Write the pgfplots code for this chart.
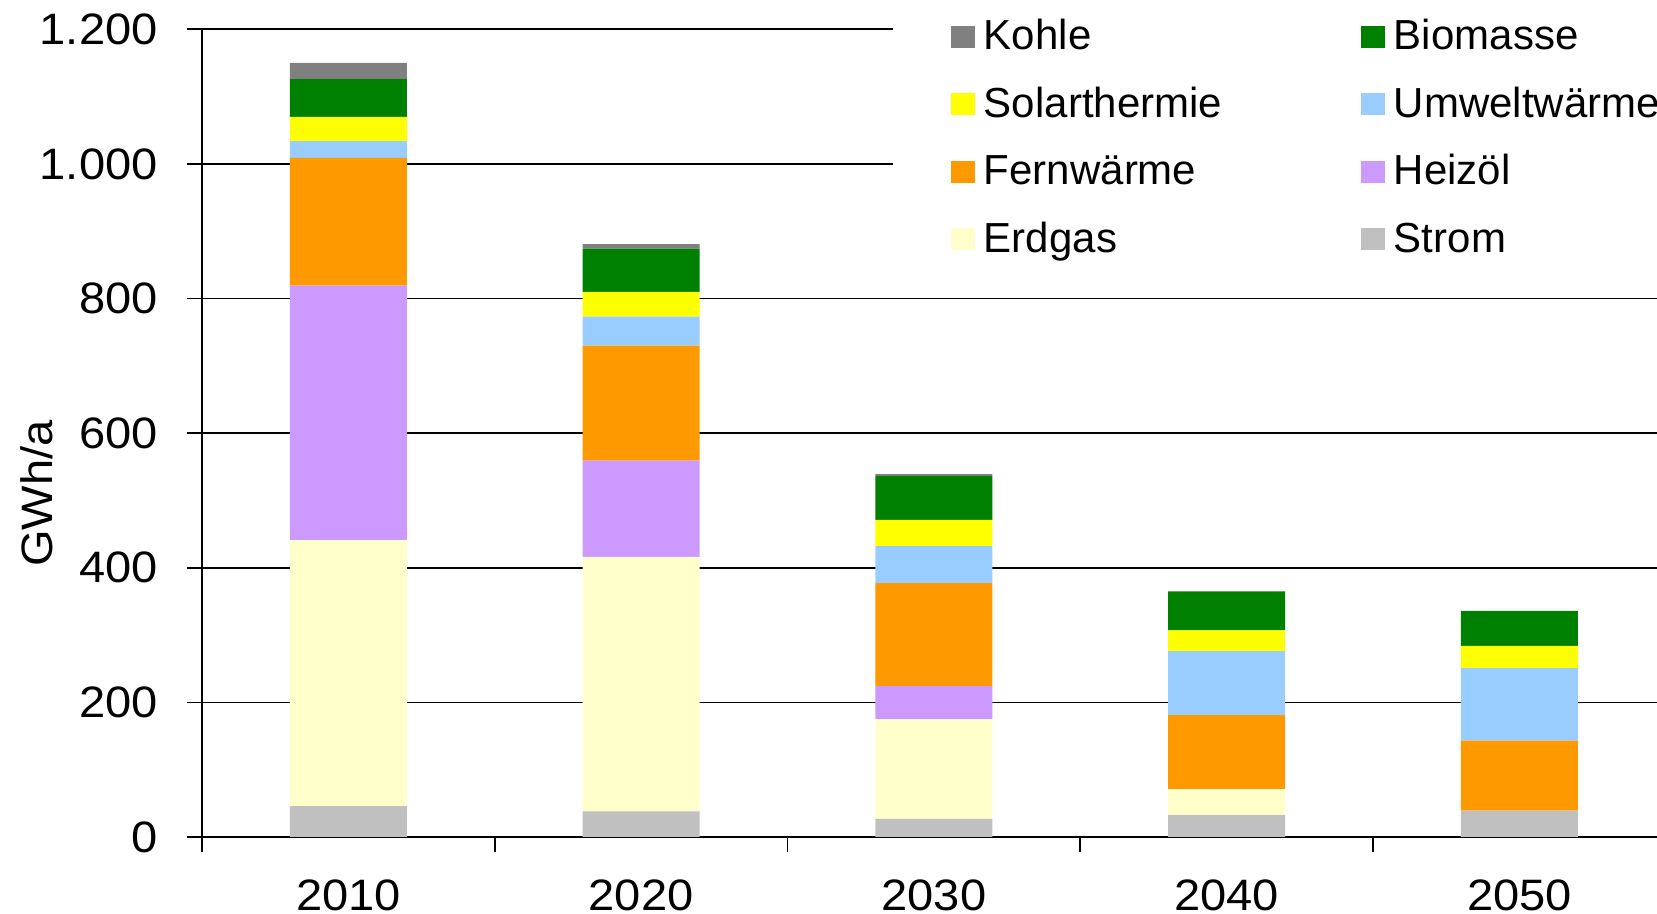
\documentclass[border=0pt]{standalone}
\usepackage{pgfplots}
\pgfplotsset{compat=1.18}
\usepackage{pgfplotstable}
\usepackage{fontspec}
\setmainfont{Liberation Sans}
\newfontfamily\tickfont[FakeStretch=1.07]{Liberation Sans}
\definecolor{cKohle}{HTML}{808080}
\definecolor{cBio}{HTML}{008000}
\definecolor{cSolar}{HTML}{FFFF00}
\definecolor{cUmwelt}{HTML}{99CCFF}
\definecolor{cFern}{HTML}{FF9900}
\definecolor{cHeiz}{HTML}{CC99FF}
\definecolor{cErdgas}{HTML}{FFFFCC}
\definecolor{cStrom}{HTML}{C0C0C0}
\pgfplotstableread{
x Strom Erdgas Heizoel Fern Umwelt Solar Bio Kohle
0 46 395 378 190 25 36 56 24
1 38 378 143 171 43 37 64 7
2 27 148 49 153 55 39 65 3
3 33 38 0 110 95 31 58 0
4 39 0 0 104 108 33 52 0
}\data
\begin{document}
\begin{tikzpicture}
\begin{axis}[name=ax,
  scale only axis, width=727.5bp, height=403.85bp,
  xmin=-0.5, xmax=4.47, ymin=0, ymax=1200,
  ybar stacked, bar width=58.5bp,
  axis x line*=bottom, axis y line*=left,
  axis line style={line width=0.8bp, black},
  tick align=outside,
  major tick length=7.5bp,
  tick style={line width=0.8bp, black},
  xtick={-0.5,0.5,1.5,2.5,3.5}, xticklabels={},
  extra x ticks={0,1,2,3,4},
  extra x tick labels={2010,2020,2030,2040,2050},
  extra x tick style={major tick length=0pt, tick style={draw=none},
    xticklabel style={anchor=base, inner sep=0pt, yshift=-36.5bp}},
  ytick={0,200,...,1200},
  ymajorgrids, grid style={line width=0.8bp, black},
  /pgf/number format/.cd, 1000 sep={.}, assume math mode=true, /pgfplots/.cd,
  ticklabel style={font=\tickfont\fontsize{22bp}{26bp}\selectfont},
  yticklabel style={anchor=east, inner sep=0pt, xshift=-14.5bp},
  ylabel={GWh/a},
  every axis y label/.style={at={(axis description cs:-0.1024,0.425)}, rotate=90, anchor=base, inner sep=0pt, font=\tickfont\fontsize{22bp}{26bp}\selectfont},
  legend image code/.code={\path[#1, draw=none] (0bp,1.15bp) rectangle (12bp,12bp);},
  legend columns=2,
  legend style={at={(axis description cs:0.4749,1.0363)}, anchor=north west,
    draw=none, fill=white, inner xsep=29bp, inner ysep=9bp, outer sep=0pt,
    font=\fontsize{21bp}{25bp}\selectfont, row sep=12.75bp,
    nodes={inner sep=0pt, text height=16bp, text depth=5bp},
    cells={anchor=base west},
    /tikz/every odd column/.append style={column sep=4.5bp}},
]
\addplot[fill=cStrom, draw=none, forget plot] table[x=x, y=Strom]{\data};
\addplot[fill=cErdgas, draw=none, forget plot] table[x=x, y=Erdgas]{\data};
\addplot[fill=cHeiz, draw=none, forget plot] table[x=x, y=Heizoel]{\data};
\addplot[fill=cFern, draw=none, forget plot] table[x=x, y=Fern]{\data};
\addplot[fill=cUmwelt, draw=none, forget plot] table[x=x, y=Umwelt]{\data};
\addplot[fill=cSolar, draw=none, forget plot] table[x=x, y=Solar]{\data};
\addplot[fill=cBio, draw=none, forget plot] table[x=x, y=Bio]{\data};
\addplot[fill=cKohle, draw=none, forget plot] table[x=x, y=Kohle]{\data};
\addlegendimage{fill=cKohle}\addlegendentry{\makebox[188.5bp][l]{Kohle}}
\addlegendimage{fill=cBio}\addlegendentry{Biomasse}
\addlegendimage{fill=cSolar}\addlegendentry{\makebox[188.5bp][l]{Solarthermie}}
\addlegendimage{fill=cUmwelt}\addlegendentry{Umweltwärme}
\addlegendimage{fill=cFern}\addlegendentry{\makebox[188.5bp][l]{Fernwärme}}
\addlegendimage{fill=cHeiz}\addlegendentry{Heizöl}
\addlegendimage{fill=cErdgas}\addlegendentry{\makebox[188.5bp][l]{Erdgas}}
\addlegendimage{fill=cStrom}\addlegendentry{Strom}
\end{axis}
\pgfresetboundingbox
\path[use as bounding box] ([shift={(-101bp,-38.5bp)}]ax.south west) rectangle ([shift={(0bp,14.65bp)}]ax.north east);
\end{tikzpicture}
\end{document}
